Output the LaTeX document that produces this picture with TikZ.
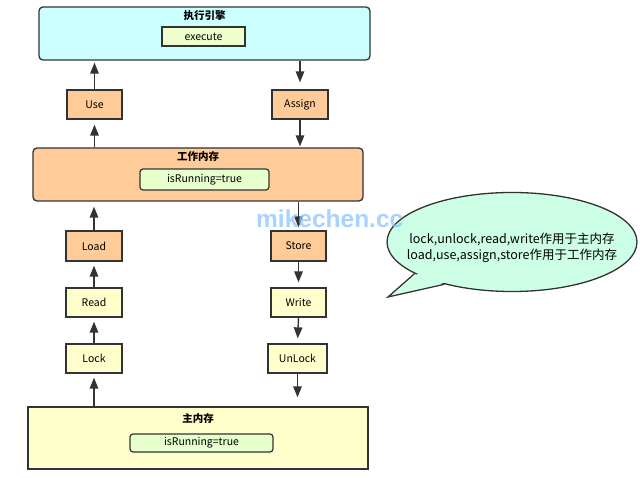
\documentclass[tikz,border=0pt]{standalone}
\usepackage{fontspec}
\setmainfont{Noto Sans CJK SC}
\newfontfamily\markfont{Liberation Sans}
\usetikzlibrary{arrows.meta,shapes.geometric,calc}

\definecolor{edge}{HTML}{333333}
\definecolor{cyanfill}{HTML}{CCFFFF}
\definecolor{orangefill}{HTML}{FFCC99}
\definecolor{yellowfill}{HTML}{FFFFCC}
\definecolor{greenfill}{HTML}{E6FFCC}
\definecolor{limefill}{HTML}{EEFFCC}
\definecolor{mintfill}{HTML}{CCFFE6}
\definecolor{markblue}{HTML}{8CC4FF}

\tikzset{
  panel/.style={draw=edge, line width=1.3pt, inner sep=0pt},
  opbox/.style={draw=edge, line width=1.3pt, minimum width=56pt, minimum height=29pt,
    inner sep=0pt, font=\fontsize{10.5}{12}\selectfont},
  valbox/.style={draw=edge, line width=1.2pt, fill=greenfill, rounded corners=3pt,
    inner sep=0pt, font=\fontsize{10.5}{12}\selectfont},
  paneltitle/.style={inner sep=0pt, font=\fontsize{10.5}{12}\selectfont\bfseries},
  flow/.style={draw=edge, line width=1.4pt, -{Triangle[length=11pt,width=8.5pt]}},
}

\begin{document}
\begin{tikzpicture}[x=1pt,y=-1pt]
  \useasboundingbox[fill=white] (0,0) rectangle (640,478);

  % execution engine
  \node[panel, fill=cyanfill, rounded corners=4pt, minimum width=331pt, minimum height=53pt]
    (engine) at (204.5,33.5) {};
  \node[paneltitle] (engineT) at (204.5,16) {执行引擎};
  \node[draw=edge, line width=1.2pt, fill=limefill, minimum width=83pt, minimum height=19pt,
    inner sep=0pt, font=\fontsize{10.5}{12}\selectfont] (exec) at (203.5,36.5) {execute};

  % use / assign
  \node[opbox, fill=orangefill, minimum width=55pt] (use) at (94.5,104.5) {Use};
  \node[opbox, fill=orangefill] (assign) at (300,104.5) {Assign};

  % working memory
  \node[panel, fill=orangefill, rounded corners=4pt, minimum width=330pt, minimum height=53pt]
    (work) at (198,174.5) {};
  \node[paneltitle] (workT) at (198,157) {工作内存};
  \node[valbox, minimum width=129pt, minimum height=21pt] (workV) at (204.5,179.5) {isRunning=true};

  % load / store, read / write, lock / unlock
  \node[opbox, fill=orangefill, minimum height=30pt] (load) at (94,246) {Load};
  \node[opbox, fill=orangefill, minimum width=55pt, minimum height=30pt] (store) at (298.5,246) {Store};
  \node[opbox, fill=yellowfill] (read) at (94,302.5) {Read};
  \node[opbox, fill=yellowfill, minimum width=55pt] (write) at (298.5,302.5) {Write};
  \node[opbox, fill=yellowfill] (lock) at (94,358.5) {Lock};
  \node[opbox, fill=yellowfill, minimum width=59pt] (unlock) at (297.5,358.5) {UnLock};

  % main memory
  \node[panel, fill=yellowfill, minimum width=340pt, minimum height=62pt] (main) at (198,438) {};
  \node[paneltitle] (mainT) at (198,418) {主内存};
  \node[valbox, minimum width=143pt, minimum height=18pt] (mainV) at (201.5,443) {isRunning=true};

  % read path (left column, upwards)
  \draw[flow, shorten >=2pt] (use.north) -- (use.north |- engine.south);
  \draw[flow, shorten >=5pt] (work.north -| use.south) -- (use.south);
  \draw[flow, shorten >=5pt] (load.north) -- (load.north |- work.south);
  \draw[flow, shorten >=4pt] (read.north) -- (load.south);
  \draw[flow, shorten >=4pt] (lock.north) -- (read.south);
  \draw[flow, shorten >=4pt] (main.north -| lock.south) -- (lock.south);

  % write path (right column, downwards)
  \draw[flow, shorten >=7pt] (engine.south -| assign.north) -- (assign.north);
  \draw[flow, shorten >=1pt] (assign.south) -- (assign.south |- work.north);
  \draw[flow, shorten >=3pt] (work.south -| store.north) -- (store.north);
  \draw[flow, shorten >=5pt] (store.south) -- (write.north);
  \draw[flow, shorten >=5pt] (write.south) -- (unlock.north);
  \draw[flow, shorten >=9pt] (unlock.south) -- (unlock.south |- main.north);

  % note bubble: ellipse with a tail pointing down-left
  \node[ellipse, draw=edge, line width=1.3pt, fill=mintfill,
    minimum width=250pt, minimum height=99pt, inner sep=0pt] (bubble) at (512,242) {};
  \coordinate (tip) at (388,297);
  \fill[mintfill] ($(bubble.198)!0.06!(bubble.center)$) -- (tip)
    -- ($(bubble.212)!0.06!(bubble.center)$) -- cycle;
  \draw[edge, line width=1.3pt, line join=miter] (bubble.198) -- (tip) -- (bubble.212);
  \node[align=center, inner sep=0pt, font=\fontsize{12.5}{16}\selectfont] (note) at (512,248)
    {lock,unlock,read,write作用于主内存\\load,use,assign,store作用于工作内存};

  % site mark
  \node[anchor=base west, inner sep=0pt, text=markblue, opacity=0.75,
    font=\markfont\bfseries\fontsize{24.5}{26}\selectfont] (mark) at (256,228) {mikechen.cc};
\end{tikzpicture}
\end{document}
